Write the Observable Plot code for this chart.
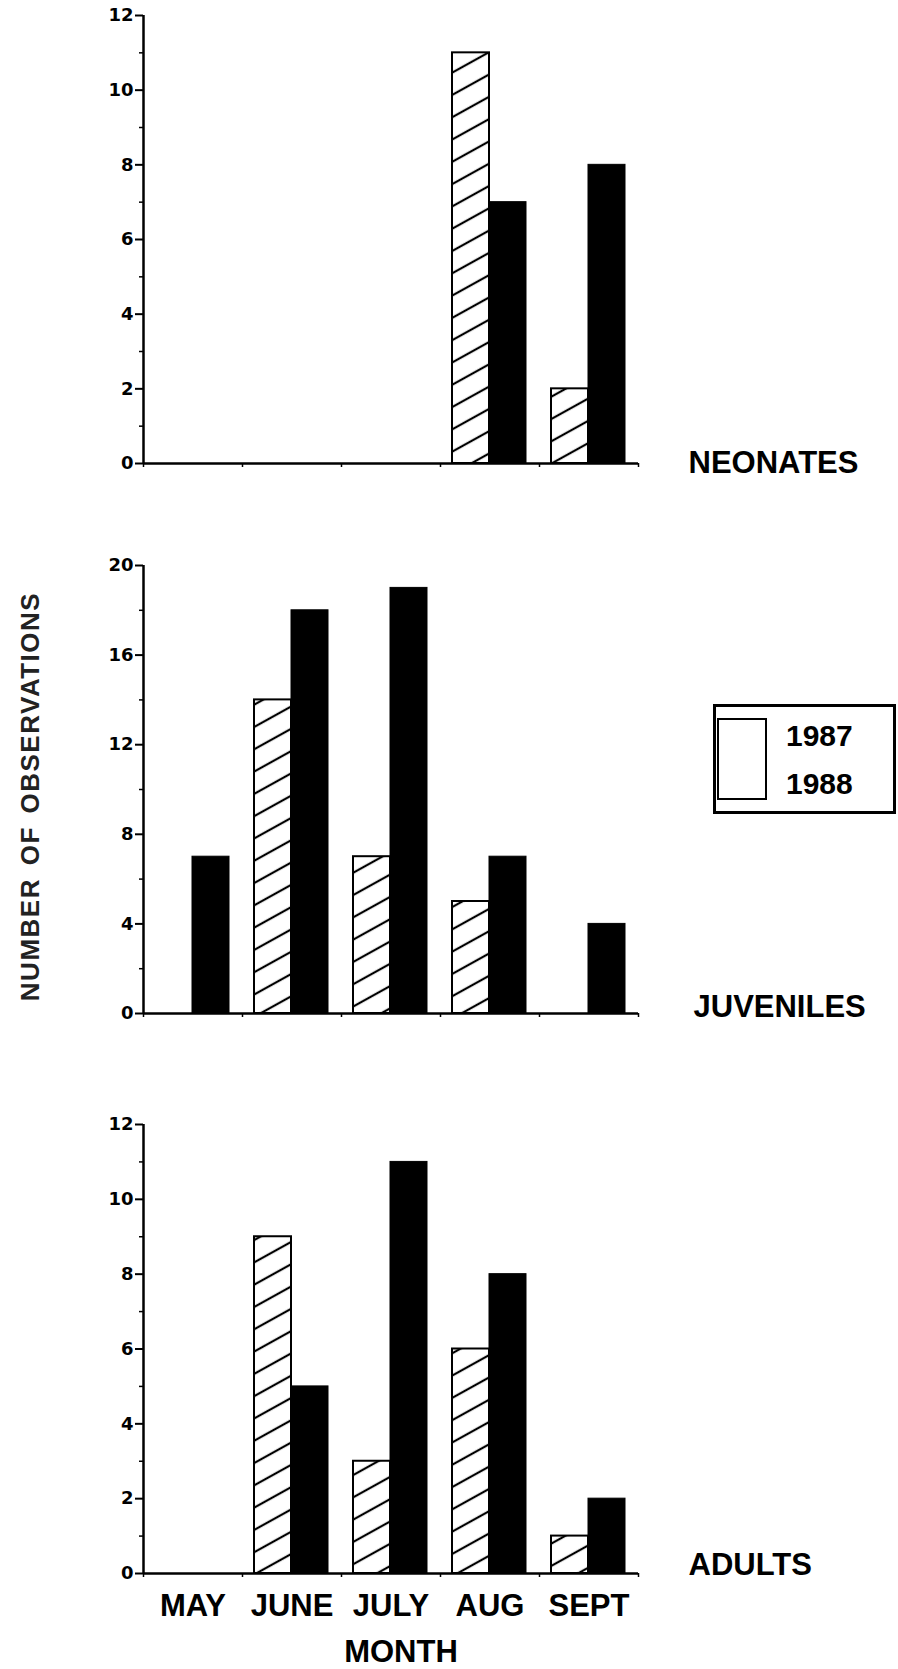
<!DOCTYPE html>
<html><head><meta charset="utf-8">
<script src="https://cdn.jsdelivr.net/npm/d3@7"></script>
<script src="https://cdn.jsdelivr.net/npm/@observablehq/plot@0.6"></script>
<style>
html,body{margin:0;padding:0;background:#fff;overflow:hidden}
#wrap{position:relative;width:898px;height:1669px}
#wrap svg{display:block}
.legend{position:absolute;left:713px;top:704px;width:183px;height:110px;border:3px solid #000;box-sizing:border-box;background:#fff;font:bold 30px "Liberation Sans",Arial,sans-serif;color:#000}
.legend .sw{position:absolute;left:1px;top:11px;width:50px;height:82px;border:2px solid #000;box-sizing:border-box}
.legend .lab{position:absolute;left:70px;line-height:30px;height:30px}
</style></head>
<body><div id="wrap"></div>
<script>
// ---- data ----
const months = ["MAY", "JUNE", "JULY", "AUG", "SEPT"];
const years = ["1987", "1988"];
const neonates1987 = [0, 0, 0, 11, 2];
const neonates1988 = [0, 0, 0, 7, 8];
const juveniles1987 = [0, 14, 7, 5, 0];
const juveniles1988 = [7, 18, 19, 7, 4];
const adults1987 = [0, 9, 3, 6, 1];
const adults1988 = [0, 5, 11, 8, 2];
const panelNames = ["NEONATES", "JUVENILES", "ADULTS"];
const ticks12 = [0, 2, 4, 6, 8, 10, 12];
const minor12 = [1, 3, 5, 7, 9, 11];
const ticks20 = [0, 4, 8, 12, 16, 20];
const minor20 = [2, 6, 10, 14, 18];
const yTitle = "NUMBER OF OBSERVATIONS";
const xTitle = "MONTH";

const bigFont = "Liberation Sans, Arial, Helvetica, sans-serif";

function panel(o) {
  const d87 = months.map((m, i) => ({month: m, value: o.v87[i]})).filter(d => d.value > 0);
  const d88 = months.map((m, i) => ({month: m, value: o.v88[i]})).filter(d => d.value > 0);
  const marks = [
    Plot.barY(d87, {x: "month", y: "value", fill: `url(#${o.id})`, stroke: "#000", strokeWidth: 2, insetLeft: 12, insetRight: 50}),
    Plot.barY(d88, {x: "month", y: "value", fill: "#000", stroke: "#000", strokeWidth: 1, insetLeft: 49, insetRight: 13}),
    Plot.ruleY([0], {stroke: "#000", strokeWidth: 2.5}),
    Plot.ruleX([months[0]], {y1: 0, y2: o.ymax, dx: -49.5, stroke: "#000", strokeWidth: 2.5}),
    Plot.ruleX(months, {y1: 0, y2: 0, dx: -49.5, insetTop: 4, stroke: "#000", strokeWidth: 1.5}),
    Plot.ruleX([months[months.length - 1]], {y1: 0, y2: 0, dx: 49.5, insetTop: 4, stroke: "#000", strokeWidth: 1.5}),
    Plot.axisY(o.major, {tickSize: 8, tickPadding: 2, strokeWidth: 2, fontSize: 18, fontWeight: "bold", fontFamily: "DejaVu Sans, sans-serif", label: null}),
    Plot.axisY(o.minor, {tickSize: 4, tickFormat: () => "", strokeWidth: 1.5, label: null}),
    Plot.text([o.name], {frameAnchor: "bottom-right", dx: o.nameDx, dy: o.nameDy, textAnchor: "start", lineAnchor: "bottom", fontSize: 31, fontWeight: "bold", fontFamily: bigFont})
  ];
  if (o.extra) marks.push(...o.extra);
  const svg = Plot.plot({
    width: 898,
    height: o.height,
    marginLeft: 143,
    marginRight: 260,
    marginTop: o.marginTop,
    marginBottom: o.marginBottom,
    style: {fontFamily: bigFont, background: "#fff", color: "#000", overflow: "visible"},
    x: {domain: months, padding: 0, axis: o.xAxis ? undefined : null, label: null},
    y: {domain: [0, o.ymax], label: null},
    marks
  });
  d3.select(svg).insert("defs", ":first-child").html(
    `<pattern id="${o.id}" patternUnits="userSpaceOnUse" width="20" height="19.5" patternTransform="rotate(-29)">` +
    `<rect width="20" height="19.5" fill="#fff"/>` +
    `<line x1="-1" y1="9.75" x2="21" y2="9.75" stroke="#000" stroke-width="2.2"/></pattern>`);
  d3.select(svg).selectAll("text").filter(function() { return this.textContent === yTitle; })
    .style("letter-spacing", "1.5px").style("word-spacing", "4px");
  return svg;
}

const wrap = document.getElementById("wrap");

wrap.appendChild(panel({
  id: "hatchA", v87: neonates1987, v88: neonates1988, ymax: 12, major: ticks12, minor: minor12,
  name: panelNames[0], nameDx: 50, nameDy: 9, height: 500, marginTop: 15, marginBottom: 37
}));

wrap.appendChild(panel({
  id: "hatchB", v87: juveniles1987, v88: juveniles1988, ymax: 20, major: ticks20, minor: minor20,
  name: panelNames[1], nameDx: 55, nameDy: 3, height: 580, marginTop: 65, marginBottom: 67,
  extra: [
    Plot.text([yTitle], {frameAnchor: "left", textAnchor: "middle", dx: -113, dy: 7, rotate: -90, fontSize: 26, fontWeight: "bold", fill: "#222", fontFamily: bigFont})
  ]
}));

wrap.appendChild(panel({
  id: "hatchC", v87: adults1987, v88: adults1988, ymax: 12, major: ticks12, minor: minor12,
  name: panelNames[2], nameDx: 50, nameDy: 1, height: 589, marginTop: 44, marginBottom: 96,
  xAxis: true,
  extra: [
    Plot.axisX({tickSize: 0, tickPadding: 20, fontSize: 31, fontWeight: "bold", fontFamily: bigFont, label: null}),
    Plot.text([xTitle], {frameAnchor: "bottom", dx: 10, dy: 88, lineAnchor: "bottom", fontSize: 31, fontWeight: "bold", fontFamily: bigFont})
  ]
}));

// legend
const legend = document.createElement("div");
legend.className = "legend";
legend.innerHTML = `<div class="sw"></div>` +
  years.map((y, i) => `<div class="lab" style="top:${13.6 + i * 48}px">${y}</div>`).join("");
wrap.appendChild(legend);
</script>
</body></html>
